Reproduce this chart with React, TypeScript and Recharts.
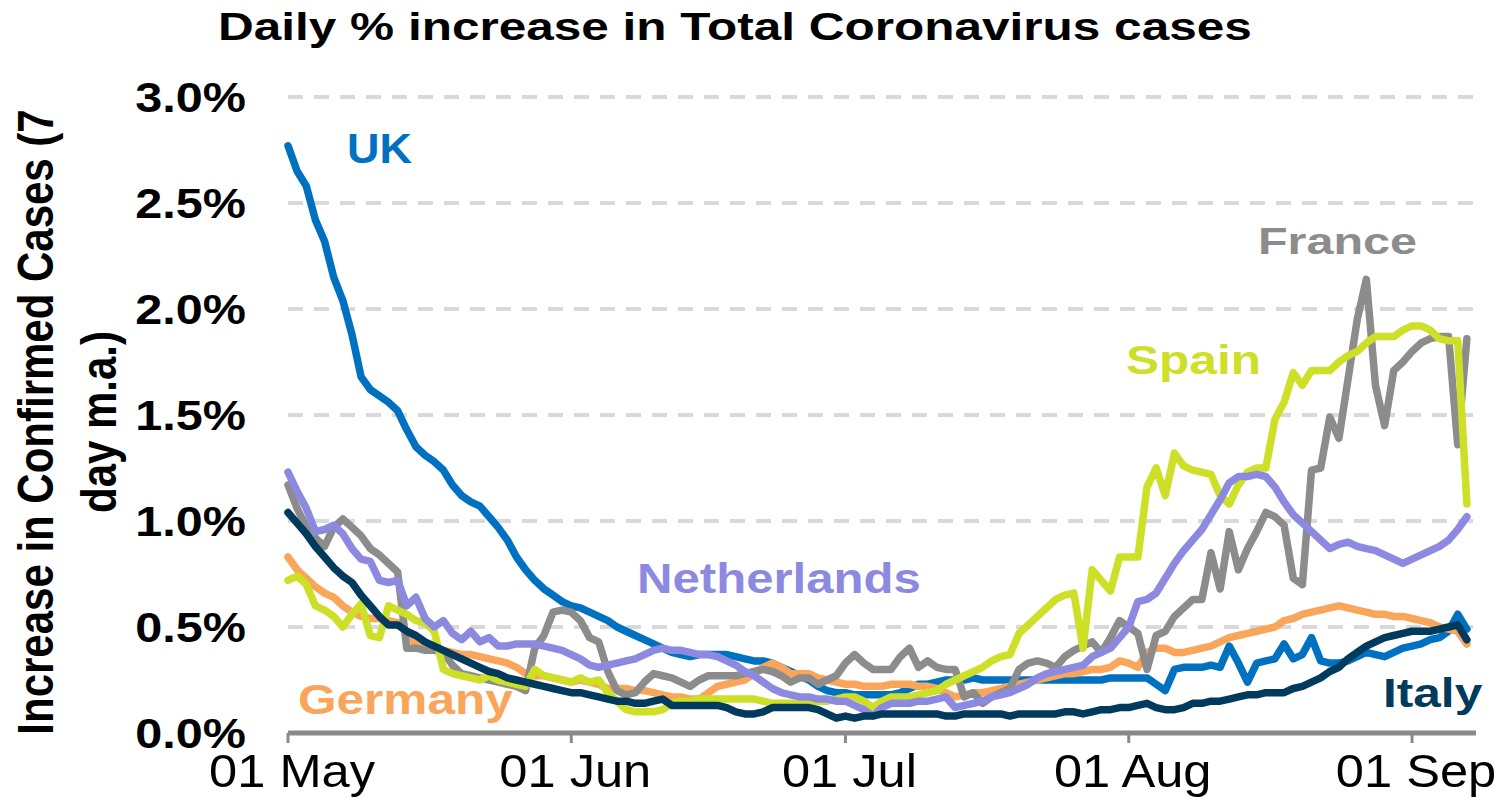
import React from 'react';
import { LineChart, Line, XAxis, YAxis, CartesianGrid } from 'recharts';

// Daily % increase in total cases, 7 day m.a., 01 May (day 0) to 07 Sep (day 129)
const tickDays = [0, 31, 61, 92, 123];
const tickLabels = ['01 May', '01 Jun', '01 Jul', '01 Aug', '01 Sep'];
const yTicks = [0, 0.5, 1, 1.5, 2, 2.5, 3];

const uk = [
  2.77, 2.65, 2.58, 2.42, 2.32, 2.15, 2.04, 1.88, 1.68, 1.62,
  1.59, 1.56, 1.52, 1.43, 1.35, 1.31, 1.28, 1.24, 1.17, 1.12,
  1.09, 1.07, 1.02, 0.97, 0.91, 0.83, 0.77, 0.72, 0.68, 0.65,
  0.62, 0.60, 0.59, 0.57, 0.55, 0.53, 0.50, 0.48, 0.46, 0.44,
  0.42, 0.40, 0.38, 0.37, 0.36, 0.37, 0.37, 0.37, 0.37, 0.36,
  0.35, 0.34, 0.34, 0.33, 0.31, 0.29, 0.27, 0.25, 0.22, 0.20,
  0.19, 0.19, 0.18, 0.18, 0.18, 0.18, 0.18, 0.19, 0.21, 0.23,
  0.23, 0.24, 0.25, 0.25, 0.25, 0.26, 0.25, 0.25, 0.25, 0.25,
  0.25, 0.25, 0.25, 0.25, 0.25, 0.25, 0.25, 0.25, 0.25, 0.25,
  0.26, 0.26, 0.26, 0.26, 0.26, 0.23, 0.20, 0.30, 0.31, 0.31,
  0.31, 0.32, 0.31, 0.41, 0.33, 0.24, 0.33, 0.34, 0.35, 0.42,
  0.35, 0.37, 0.45, 0.34, 0.33, 0.33, 0.34, 0.36, 0.38, 0.37,
  0.36, 0.38, 0.40, 0.41, 0.42, 0.44, 0.45, 0.48, 0.56, 0.49,
];

const germany = [
  0.83, 0.77, 0.73, 0.69, 0.66, 0.64, 0.60, 0.57, 0.55, 0.54,
  0.54, 0.53, 0.52, 0.47, 0.42, 0.40, 0.39, 0.39, 0.38, 0.37,
  0.37, 0.36, 0.35, 0.34, 0.33, 0.31, 0.28, 0.27, 0.27, 0.26,
  0.25, 0.24, 0.25, 0.24, 0.23, 0.21, 0.21, 0.21, 0.20, 0.20,
  0.19, 0.18, 0.17, 0.17, 0.16, 0.16, 0.19, 0.22, 0.23, 0.24,
  0.25, 0.28, 0.31, 0.33, 0.31, 0.28, 0.28, 0.28, 0.26, 0.25,
  0.24, 0.23, 0.23, 0.22, 0.22, 0.22, 0.23, 0.23, 0.23, 0.22,
  0.22, 0.21, 0.19, 0.17, 0.18, 0.19, 0.19, 0.20, 0.21, 0.22,
  0.23, 0.24, 0.25, 0.26, 0.27, 0.28, 0.28, 0.29, 0.30, 0.30,
  0.31, 0.34, 0.33, 0.31, 0.38, 0.40, 0.40, 0.38, 0.38, 0.39,
  0.40, 0.41, 0.43, 0.45, 0.46, 0.47, 0.48, 0.49, 0.50, 0.53,
  0.54, 0.56, 0.57, 0.58, 0.59, 0.60, 0.59, 0.58, 0.57, 0.56,
  0.56, 0.55, 0.55, 0.54, 0.53, 0.52, 0.50, 0.49, 0.48, 0.42,
];

const france = [
  1.17, 1.06, 0.97, 0.92, 0.88, 0.97, 1.01, 0.97, 0.93, 0.87,
  0.84, 0.80, 0.76, 0.40, 0.40, 0.39, 0.39, 0.38, 0.32, 0.28,
  0.27, 0.26, 0.25, 0.24, 0.23, 0.22, 0.20, 0.40, 0.46, 0.57,
  0.58, 0.57, 0.53, 0.45, 0.43, 0.29, 0.20, 0.18, 0.19, 0.24,
  0.28, 0.27, 0.26, 0.24, 0.22, 0.25, 0.27, 0.27, 0.27, 0.27,
  0.28, 0.29, 0.30, 0.29, 0.27, 0.24, 0.26, 0.26, 0.23, 0.25,
  0.27, 0.33, 0.37, 0.33, 0.30, 0.30, 0.30, 0.36, 0.40, 0.31,
  0.34, 0.31, 0.30, 0.30, 0.17, 0.19, 0.14, 0.17, 0.19, 0.21,
  0.30, 0.33, 0.34, 0.33, 0.31, 0.36, 0.39, 0.41, 0.43, 0.38,
  0.45, 0.53, 0.50, 0.47, 0.30, 0.46, 0.48, 0.55, 0.59, 0.63,
  0.63, 0.85, 0.68, 0.95, 0.77, 0.87, 0.95, 1.04, 1.02, 0.98,
  0.73, 0.70, 1.24, 1.25, 1.49, 1.39, 1.67, 1.95, 2.14, 1.64,
  1.45, 1.71, 1.75, 1.80, 1.84, 1.86, 1.87, 1.87, 1.36, 1.86,
];

const spain = [
  0.72, 0.74, 0.70, 0.60, 0.58, 0.55, 0.50, 0.56, 0.61, 0.46,
  0.45, 0.60, 0.58, 0.56, 0.53, 0.52, 0.48, 0.30, 0.28, 0.27,
  0.26, 0.25, 0.27, 0.25, 0.24, 0.23, 0.22, 0.30, 0.27, 0.26,
  0.25, 0.24, 0.26, 0.24, 0.25, 0.19, 0.15, 0.11, 0.10, 0.10,
  0.10, 0.11, 0.14, 0.15, 0.15, 0.16, 0.16, 0.16, 0.16, 0.16,
  0.16, 0.16, 0.15, 0.14, 0.14, 0.14, 0.14, 0.14, 0.15, 0.15,
  0.16, 0.17, 0.17, 0.15, 0.12, 0.15, 0.17, 0.17, 0.17, 0.18,
  0.19, 0.20, 0.23, 0.25, 0.27, 0.29, 0.31, 0.34, 0.36, 0.37,
  0.47, 0.51, 0.55, 0.59, 0.63, 0.65, 0.66, 0.40, 0.77, 0.72,
  0.67, 0.83, 0.83, 0.83, 1.16, 1.25, 1.12, 1.32, 1.26, 1.24,
  1.23, 1.22, 1.12, 1.08, 1.17, 1.23, 1.25, 1.25, 1.48, 1.56,
  1.70, 1.64, 1.71, 1.71, 1.71, 1.75, 1.78, 1.80, 1.84, 1.87,
  1.87, 1.87, 1.90, 1.92, 1.92, 1.90, 1.86, 1.85, 1.85, 1.08,
];

const netherlands = [
  1.23, 1.14, 1.06, 0.95, 0.96, 0.98, 0.94, 0.87, 0.82, 0.81,
  0.72, 0.71, 0.72, 0.60, 0.64, 0.54, 0.50, 0.53, 0.47, 0.44,
  0.48, 0.43, 0.45, 0.41, 0.41, 0.42, 0.42, 0.42, 0.41, 0.40,
  0.39, 0.37, 0.35, 0.32, 0.31, 0.32, 0.33, 0.34, 0.35, 0.37,
  0.39, 0.40, 0.39, 0.39, 0.38, 0.37, 0.37, 0.36, 0.34, 0.32,
  0.29, 0.27, 0.24, 0.21, 0.19, 0.18, 0.17, 0.17, 0.16, 0.16,
  0.15, 0.15, 0.13, 0.11, 0.08, 0.12, 0.14, 0.14, 0.14, 0.15,
  0.15, 0.16, 0.17, 0.12, 0.13, 0.14, 0.15, 0.17, 0.18, 0.19,
  0.21, 0.23, 0.26, 0.28, 0.29, 0.30, 0.31, 0.32, 0.36, 0.38,
  0.40, 0.45, 0.50, 0.62, 0.63, 0.66, 0.73, 0.80, 0.86, 0.91,
  0.96, 1.03, 1.10, 1.18, 1.21, 1.21, 1.22, 1.21, 1.16, 1.09,
  1.03, 0.99, 0.95, 0.91, 0.87, 0.89, 0.90, 0.88, 0.87, 0.86,
  0.84, 0.82, 0.80, 0.82, 0.84, 0.86, 0.88, 0.91, 0.96, 1.02,
];

const italy = [
  1.04, 0.99, 0.94, 0.88, 0.83, 0.78, 0.74, 0.71, 0.65, 0.60,
  0.55, 0.51, 0.51, 0.48, 0.46, 0.43, 0.41, 0.39, 0.37, 0.35,
  0.33, 0.31, 0.29, 0.28, 0.26, 0.25, 0.24, 0.23, 0.22, 0.21,
  0.20, 0.19, 0.19, 0.18, 0.17, 0.16, 0.15, 0.15, 0.14, 0.14,
  0.15, 0.16, 0.13, 0.13, 0.13, 0.13, 0.13, 0.13, 0.12, 0.10,
  0.09, 0.09, 0.10, 0.12, 0.12, 0.12, 0.12, 0.12, 0.11, 0.09,
  0.07, 0.08, 0.07, 0.08, 0.08, 0.09, 0.09, 0.09, 0.09, 0.09,
  0.09, 0.09, 0.08, 0.08, 0.09, 0.09, 0.09, 0.09, 0.09, 0.08,
  0.09, 0.09, 0.09, 0.09, 0.09, 0.10, 0.10, 0.09, 0.10, 0.11,
  0.11, 0.12, 0.12, 0.13, 0.14, 0.12, 0.11, 0.11, 0.12, 0.14,
  0.14, 0.15, 0.15, 0.16, 0.17, 0.18, 0.18, 0.19, 0.19, 0.19,
  0.21, 0.22, 0.24, 0.26, 0.29, 0.31, 0.35, 0.38, 0.41, 0.43,
  0.45, 0.46, 0.47, 0.48, 0.48, 0.48, 0.49, 0.50, 0.51, 0.44,
];

const data = uk.map((v, i) => ({
  day: i,
  uk: v,
  germany: germany[i],
  france: france[i],
  spain: spain[i],
  netherlands: netherlands[i],
  italy: italy[i],
}));

const FONT = '"Liberation Sans", Arial, Helvetica, sans-serif';

// drawing order: later ones sit on top
const series = [
  { key: 'uk', color: '#0070C0' },
  { key: 'germany', color: '#F9A55A' },
  { key: 'france', color: '#8C8C8C' },
  { key: 'spain', color: '#CDE027' },
  { key: 'netherlands', color: '#8C8AE0' },
  { key: 'italy', color: '#003A5D' },
];

// text that is a bit wider than the font, like the stretched original
const Wide = ({ x, y, sx = 1, size, bold = true, fill = '#000', anchor = 'start', children }: any) => (
  <text
    transform={`translate(${x},${y}) scale(${sx},1)`}
    textAnchor={anchor}
    fontFamily={FONT}
    fontSize={size}
    fontWeight={bold ? 700 : 400}
    fill={fill}
  >
    {children}
  </text>
);

const XTick = ({ x, y, payload }: any) => {
  const i = tickDays.indexOf(payload.value);
  return (
    <Wide x={x + 4} y={y + 42} sx={1.1} size={46} bold={false} anchor="middle">
      {tickLabels[i]}
    </Wide>
  );
};

const YTick = ({ y, payload }: any) => (
  <Wide x={246} y={y + 15} sx={1.13} size={43} anchor="end">
    {`${payload.value.toFixed(1)}%`}
  </Wide>
);

const App = () => {
  return (
    <div style={{ position: 'absolute', left: 0, top: 0, width: 1503, height: 806, background: '#fff' }}>
      <LineChart
        width={1503}
        height={806}
        data={data}
        margin={{ top: 97, right: 27, bottom: 43, left: 0 }}
        style={{ fontFamily: FONT }}
      >
        <CartesianGrid vertical={false} stroke="#D9D9D9" strokeWidth={4} strokeDasharray="15 11" />
        <XAxis
          type="number"
          dataKey="day"
          domain={[0, 130]}
          ticks={tickDays}
          tick={<XTick />}
          axisLine={{ stroke: '#898989', strokeWidth: 5 }}
          tickLine={{ stroke: '#898989', strokeWidth: 3 }}
          tickSize={10}
          height={30}
          interval={0}
        />
        <YAxis
          width={288}
          domain={[0, 3]}
          ticks={yTicks}
          tick={<YTick />}
          axisLine={false}
          tickLine={false}
          interval={0}
        />
        {series.map((s) => (
          <Line
            key={s.key}
            type="linear"
            dataKey={s.key}
            stroke={s.color}
            strokeWidth={7.5}
            strokeLinejoin="round"
            strokeLinecap="round"
            dot={false}
            activeDot={false}
            isAnimationActive={false}
          />
        ))}
      </LineChart>
      <svg
        width={1503}
        height={806}
        style={{ position: 'absolute', left: 0, top: 0, pointerEvents: 'none' }}
      >
        <Wide x={218} y={40} sx={1.27} size={39}>Daily % increase in Total Coronavirus cases</Wide>
        <g fontFamily={FONT} fontSize={42} fontWeight={700} fill="#000" textAnchor="middle">
          <text transform="translate(53,422) scale(1.2,1) rotate(-90)">Increase in Confirmed Cases (7</text>
          <text transform="translate(116,422) scale(1.2,1) rotate(-90)">day m.a.)</text>
        </g>
        <Wide x={347} y={163} sx={1.07} size={42} fill="#0070C0">UK</Wide>
        <Wide x={1258} y={254} sx={1.31} size={37} fill="#8C8C8C">France</Wide>
        <Wide x={1126} y={374} sx={1.24} size={40} fill="#CDE027">Spain</Wide>
        <Wide x={637} y={593} sx={1.17} size={42} fill="#8C8AE0">Netherlands</Wide>
        <Wide x={298} y={714} sx={1.18} size={42} fill="#F9A55A">Germany</Wide>
        <Wide x={1383} y={707} sx={1.24} size={40} fill="#003A5D">Italy</Wide>
      </svg>
    </div>
  );
};

export default App;
